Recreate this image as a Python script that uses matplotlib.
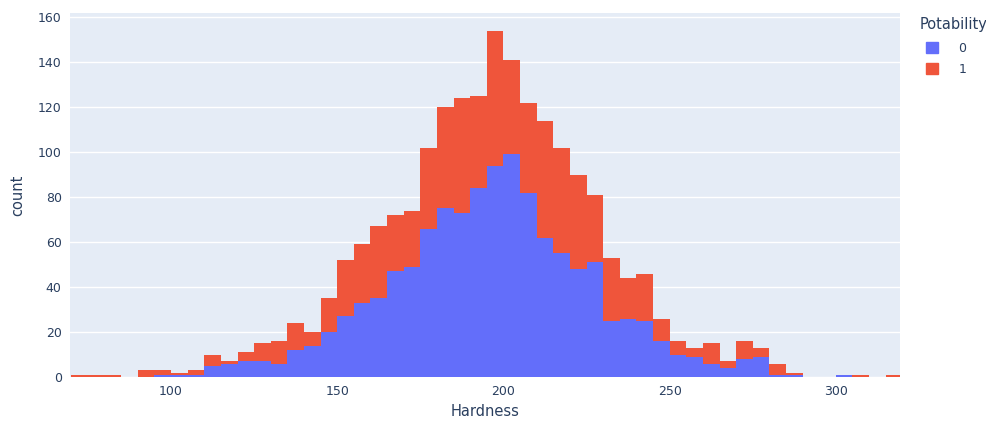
import numpy as np
import matplotlib
matplotlib.use("Agg")
import matplotlib.pyplot as plt
from matplotlib.patches import Patch

# =====================================================
# Data (counts per 5-unit Hardness bin)
# =====================================================
bin_left = list(range(70, 320, 5))
bin_width = 5

potability_0 = [0, 0, 0, 0, 0, 1, 1, 1, 5, 6,
                7, 7, 6, 12, 14, 20, 27, 33, 35, 47,
                49, 66, 75, 73, 84, 94, 99, 82, 62, 55,
                48, 51, 25, 26, 25, 16, 10, 9, 6, 4,
                8, 9, 1, 1, 0, 0, 1, 0, 0, 0]
potability_1 = [1, 1, 1, 0, 3, 2, 1, 2, 5, 1,
                4, 8, 10, 12, 6, 15, 25, 26, 32, 25,
                25, 36, 45, 51, 41, 60, 42, 40, 52, 47,
                42, 30, 28, 18, 21, 10, 6, 4, 9, 3,
                8, 4, 5, 1, 0, 0, 0, 1, 0, 1]

x_ticks = [100, 150, 200, 250, 300]
y_ticks = [0, 20, 40, 60, 80, 100, 120, 140, 160]

BLUE = "#636efa"
RED = "#EF553B"
TEXT = "#2a3f5f"

# =====================================================
# Plot
# =====================================================
fig = plt.figure(figsize=(9.87, 4.23), dpi=100)
ax = fig.add_axes([70 / 987, 1 - 377 / 423, 830 / 987, (377 - 12.7) / 423])
ax.set_facecolor("#E5ECF6")

ax.bar(bin_left, potability_0, width=bin_width, align="edge",
       color=BLUE, linewidth=0, zorder=2)
ax.bar(bin_left, potability_1, width=bin_width, align="edge",
       bottom=potability_0, color=RED, linewidth=0, zorder=2)

ax.set_xlim(69.6, 319.3)
ax.set_ylim(0, 162)
ax.set_xticks(x_ticks)
ax.set_yticks(y_ticks)
ax.grid(axis="y", color="white", linewidth=1, zorder=0)
ax.set_axisbelow(True)
for s in ax.spines.values():
    s.set_visible(False)
ax.tick_params(length=0, labelsize=9, labelcolor=TEXT, pad=6)

ax.set_xlabel("Hardness", fontsize=10.5, color=TEXT)
ax.set_ylabel("count", fontsize=10.5, color=TEXT)
ax.xaxis.set_label_coords(0.5, (377 - 404) / 364.3)
ax.yaxis.set_label_coords((25 - 70) / 830, 0.5)

# legend
fig.text(920 / 987, 1 - 25 / 423, "Potability", fontsize=10.5, color=TEXT,
         ha="left", va="center")
handles = [Patch(facecolor=BLUE, edgecolor=BLUE), Patch(facecolor=RED, edgecolor=RED)]
leg = fig.legend(handles, ["0", "1"], loc="upper left",
                 bbox_to_anchor=(926 / 987, 1 - 42 / 423), frameon=False,
                 fontsize=9, handlelength=1.0, handleheight=1.0,
                 handletextpad=1.6, labelspacing=0.65, borderaxespad=0,
                 borderpad=0)
for t in leg.get_texts():
    t.set_color(TEXT)

fig.savefig("out.png", dpi=100)
